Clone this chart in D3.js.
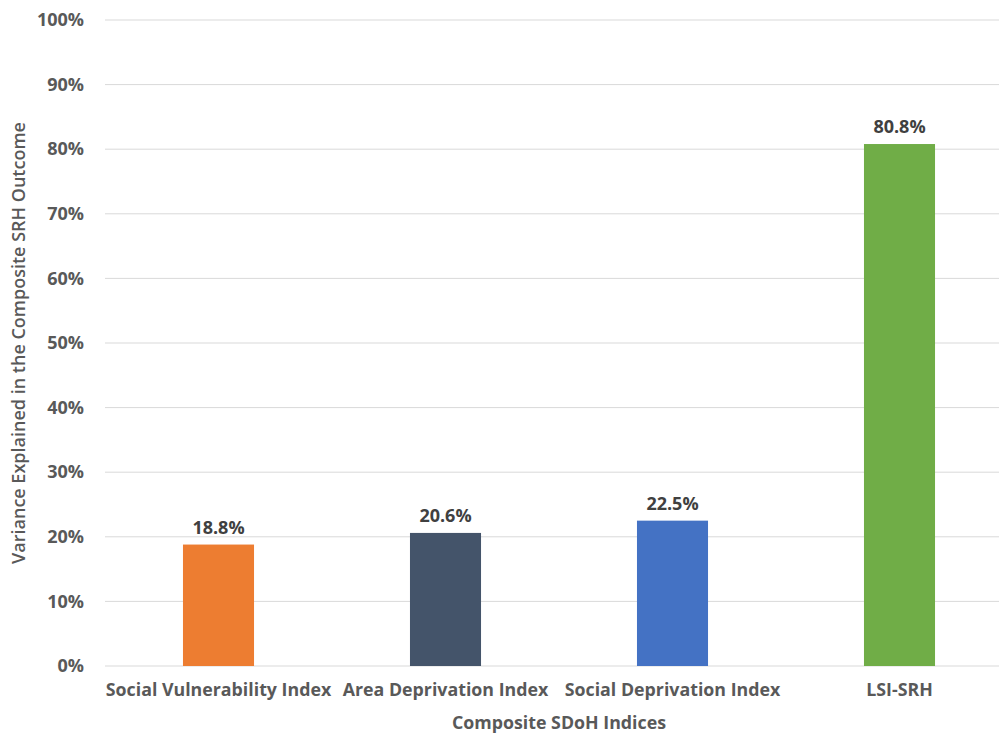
<!DOCTYPE html>
<html>
<head>
<meta charset="utf-8">
<script src="https://cdn.jsdelivr.net/npm/d3@7"></script>
<style>
  body { margin: 0; background: #fff; }
  text { font-family: "Open Sans", Lato, sans-serif; }
</style>
</head>
<body>
<div class="chart"></div>
<script>
const categories = ['Social Vulnerability Index', 'Area Deprivation Index', 'Social Deprivation Index', 'LSI-SRH'];
const values = [18.8, 20.6, 22.5, 80.8];
const colors = ['#ED7D31', '#44546A', '#4472C4', '#70AD47'];
const yTicks = [0, 10, 20, 30, 40, 50, 60, 70, 80, 90, 100];

const dims = { width: 999, height: 735 };
const margin = { top: 20, right: -14, bottom: 69, left: 105 };

const svg = d3.select('.chart')
  .append('svg')
  .attr('width', dims.width)
  .attr('height', dims.height);

const x = d3.scaleBand()
  .domain(categories)
  .range([margin.left, dims.width - margin.right])
  .paddingInner(0.687)
  .paddingOuter(0.3435);

const y = d3.scaleLinear()
  .domain([0, 100])
  .range([dims.height - margin.bottom, margin.top]);

// gridlines
svg.append('g')
  .selectAll('line')
  .data(yTicks)
  .enter()
  .append('line')
  .attr('x1', margin.left)
  .attr('x2', dims.width)
  .attr('y1', d => y(d))
  .attr('y2', d => y(d))
  .attr('stroke', '#d9d9d9')
  .attr('stroke-width', 1);

// y axis
const yAxis = svg.append('g')
  .attr('transform', `translate(${margin.left}, 0)`)
  .call(d3.axisLeft(y).tickValues(yTicks).tickFormat(d => d + '%').tickSize(0).tickPadding(21));
yAxis.select('.domain').remove();
yAxis.selectAll('text')
  .attr('fill', '#595959')
  .style('font-size', '18px')
  .style('font-weight', 'bold');

// x axis
const xAxis = svg.append('g')
  .attr('transform', `translate(0, ${y(0)})`)
  .call(d3.axisBottom(x).tickSize(0).tickPadding(17));
xAxis.select('.domain').remove();
xAxis.selectAll('text')
  .attr('fill', '#595959')
  .style('font-size', '17.8px')
  .style('font-weight', 'bold');

// bars
svg.append('g')
  .selectAll('rect')
  .data(values)
  .enter()
  .append('rect')
  .attr('x', (d, i) => x(categories[i]))
  .attr('width', x.bandwidth())
  .attr('y', d => y(d))
  .attr('height', d => y(0) - y(d))
  .attr('fill', (d, i) => colors[i]);

// value labels
svg.append('g')
  .selectAll('text')
  .data(values)
  .enter()
  .append('text')
  .attr('x', (d, i) => x(categories[i]) + x.bandwidth() / 2)
  .attr('y', d => y(d) - 11)
  .attr('text-anchor', 'middle')
  .attr('fill', '#404040')
  .style('font-size', '18px')
  .style('font-weight', 'bold')
  .text(d => d.toFixed(1) + '%');

// axis titles
svg.append('text')
  .attr('x', 559)
  .attr('y', 729)
  .attr('text-anchor', 'middle')
  .attr('fill', '#595959')
  .style('font-size', '17.8px')
  .style('font-weight', 'bold')
  .text('Composite SDoH Indices');

svg.append('text')
  .attr('transform', `translate(25, ${y(50)}) rotate(-90)`)
  .attr('text-anchor', 'middle')
  .attr('fill', '#595959')
  .style('font-size', '18px')
  .style('font-weight', '600')
  .text('Variance Explained in the Composite SRH Outcome');
</script>
</body>
</html>
